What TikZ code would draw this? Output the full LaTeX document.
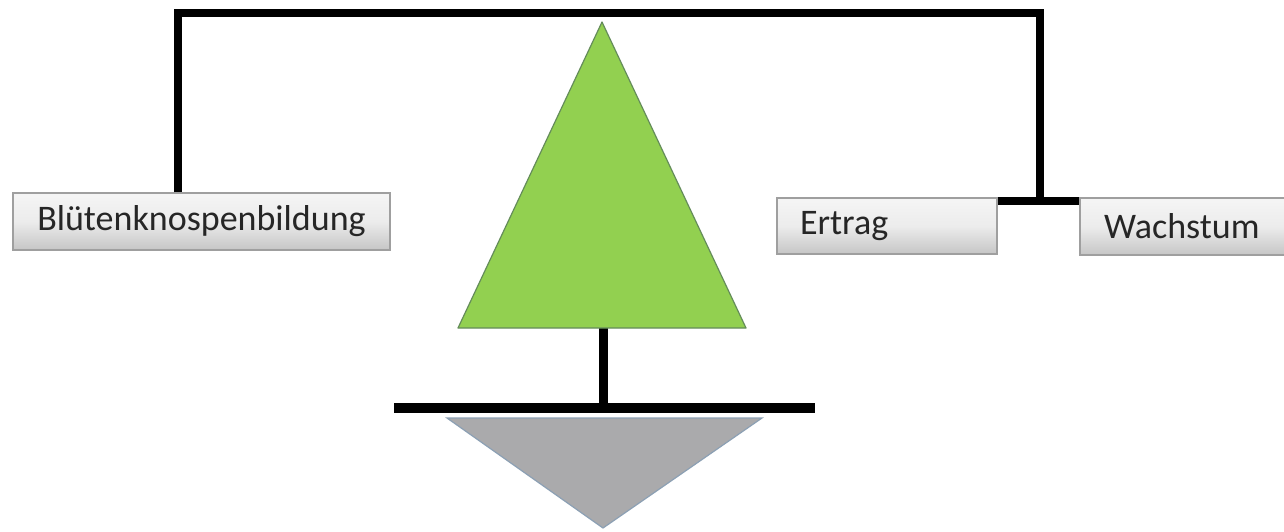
\documentclass[tikz,border=0pt]{standalone}
\usepackage{fontspec}
\setmainfont{Carlito}
\begin{document}
\begin{tikzpicture}[x=1pt,y=-1pt,
  box/.style={rectangle, draw=gray!75, line width=1.5pt, top color=gray!8, bottom color=gray!45,
    middle color=gray!15, inner sep=0pt, font=\fontsize{36}{40}\selectfont, text=black!85},
  conn/.style={line width=8pt, black, line cap=butt, line join=miter},
  thick line/.style={line width=9pt, black}]
\clip (0,0) rectangle (1284,531);
\fill[white] (0,0) rectangle (1284,531);
% boxes
\node[box, minimum width=377pt, minimum height=57pt] (blueten) at (201.5,221.5) {Blütenknospenbildung};
\node[box, minimum width=220pt, minimum height=56pt, text width=174pt, align=left, inner xsep=23pt] (ertrag) at (887,226) {Ertrag};
\node[box, minimum width=214pt, minimum height=57pt, text width=166pt, align=left, inner xsep=24pt] (wachstum) at (1187,226.5) {Wachstum};
% connectors
\coordinate (tl) at (178,13);
\coordinate (tr) at (1040,13);
\coordinate (j) at (1040,202);
\draw[conn] (blueten.north -| tl) -- (tl) -- (tr) -- (j);
\draw[conn] ([yshift=-4pt]ertrag.north east) -- ([yshift=-4pt]wachstum.north west);
% tree
\coordinate (apex) at (602,22);
\coordinate (bl) at (458,328);
\coordinate (br) at (746,328);
\coordinate (trunktop) at (603,328);
\coordinate (ground) at (603,408);
\coordinate (gl) at (394,408);
\coordinate (gr) at (815,408);
\draw[thick line] (trunktop) -- (ground);
\filldraw[fill={rgb,255:red,146;green,208;blue,80}, draw={rgb,255:red,100;green,140;blue,90}, line width=1.2pt, line join=round] (apex) -- (br) -- (bl) -- cycle;
\draw[line width=10pt, black] (gl) -- (gr);
% root triangle
\coordinate (rl) at (447,418);
\coordinate (rr) at (762,418);
\coordinate (rb) at (603,528);
\filldraw[fill={rgb,255:red,170;green,170;blue,172}, draw={rgb,255:red,140;green,160;blue,180}, line width=1.2pt] (rl) -- (rr) -- (rb) -- cycle;
\end{tikzpicture}
\end{document}
